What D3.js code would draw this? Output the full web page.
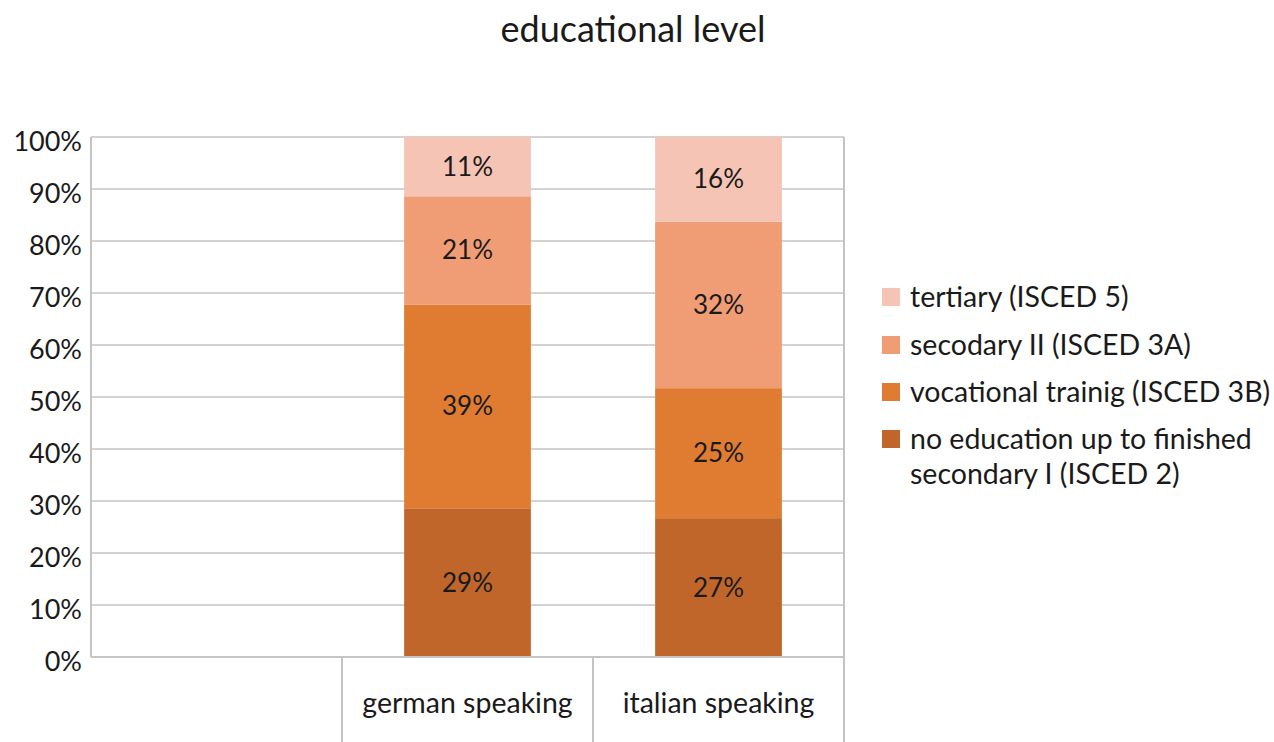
<!DOCTYPE html>
<html><head><meta charset="utf-8">
<script src="https://cdn.jsdelivr.net/npm/d3@7"></script>
<style>body{margin:0;background:#fff}svg{display:block}</style>
</head><body><svg id="c" width="1274" height="742"></svg>
<script>
const title = "educational level";
const categories = ["", "german speaking", "italian speaking"];
const seriesKeys = ["noEducation", "vocational", "secondaryII", "tertiary"];
const seriesNames = ["no education up to finished secondary I (ISCED 2)", "vocational trainig (ISCED 3B)", "secodary II (ISCED 3A)", "tertiary (ISCED 5)"];
const noEducation = [0, 28.6, 26.7];
const vocational = [0, 39.2, 25.0];
const secondaryII = [0, 20.8, 32.0];
const tertiary = [0, 11.4, 16.3];
const yTicks = [0, 10, 20, 30, 40, 50, 60, 70, 80, 90, 100];
const colors = ["#C0662A", "#E07C32", "#F09D75", "#F5C4B5"];

const FONT = "Lato, 'Open Sans', sans-serif";
const TXT = "#1a1a1a";
const GRID = "#c4c4c4";

const svg = d3.select("#c");
const m = {left: 91, right: 844, top: 137, bottom: 657};

const rows = categories.map((c, i) => ({cat: c, noEducation: noEducation[i], vocational: vocational[i], secondaryII: secondaryII[i], tertiary: tertiary[i]}));
const stack = d3.stack().keys(seriesKeys)(rows);

const x = d3.scaleBand().domain(categories).range([m.left, m.right]).padding(0);
const y = d3.scaleLinear().domain([0, 100]).range([m.bottom, m.top]);
const barW = x.bandwidth() * 0.505;

// title
svg.append("text").attr("x", 633).attr("y", 42).attr("text-anchor", "middle")
  .attr("font-family", FONT).attr("font-size", 36).attr("fill", TXT).text(title);

// gridlines
svg.append("g").selectAll("line").data(yTicks).join("line")
  .attr("x1", m.left).attr("x2", m.right)
  .attr("y1", d => y(d)).attr("y2", d => y(d))
  .attr("stroke", GRID).attr("stroke-width", 1.5);

// y labels
svg.append("g").selectAll("text").data(yTicks).join("text")
  .attr("x", 82).attr("y", d => y(d) + 13.5).attr("text-anchor", "end")
  .attr("font-family", FONT).attr("font-size", 27).attr("fill", TXT)
  .text(d => d + "%");

// bars
const layers = svg.append("g").selectAll("g").data(stack).join("g")
  .attr("fill", (d, i) => colors[i]);
layers.selectAll("rect").data(d => d.filter(s => s[1] - s[0] > 0)).join("rect")
  .attr("x", d => x(d.data.cat) + (x.bandwidth() - barW) / 2)
  .attr("width", barW)
  .attr("y", d => y(d[1]))
  .attr("height", d => y(d[0]) - y(d[1]));

// bar labels
layers.selectAll("text").data(d => d.filter(s => s[1] - s[0] > 0).map(s => Object.assign(s, {v: s[1] - s[0]}))).join("text")
  .attr("x", d => x(d.data.cat) + x.bandwidth() / 2)
  .attr("y", d => (y(d[0]) + y(d[1])) / 2 + 9)
  .attr("text-anchor", "middle")
  .attr("font-family", FONT).attr("font-size", 26).attr("fill", TXT)
  .text(d => d3.format(".0f")(d.v) + "%");

// axes lines
svg.append("line").attr("x1", m.left).attr("x2", m.left).attr("y1", m.top).attr("y2", m.bottom)
  .attr("stroke", GRID).attr("stroke-width", 2);
svg.append("line").attr("x1", m.right).attr("x2", m.right).attr("y1", m.top).attr("y2", 742)
  .attr("stroke", GRID).attr("stroke-width", 2);
svg.append("line").attr("x1", m.left).attr("x2", m.right).attr("y1", m.bottom).attr("y2", m.bottom)
  .attr("stroke", GRID).attr("stroke-width", 2);
// category separators
svg.append("g").selectAll("line").data(categories.slice(1)).join("line")
  .attr("x1", d => x(d)).attr("x2", d => x(d)).attr("y1", m.bottom).attr("y2", 742)
  .attr("stroke", GRID).attr("stroke-width", 2);

// category labels
svg.append("g").selectAll("text").data(categories).join("text")
  .attr("x", d => x(d) + x.bandwidth() / 2).attr("y", 713)
  .attr("text-anchor", "middle")
  .attr("font-family", FONT).attr("font-size", 28.5).attr("fill", TXT)
  .text(d => d);

// legend (reverse order)
const legendItems = seriesNames.map((n, i) => ({name: n, color: colors[i]})).reverse();
const legendLines = [["tertiary (ISCED 5)"], ["secodary II (ISCED 3A)"], ["vocational trainig (ISCED 3B)"], ["no education up to finished", "secondary I (ISCED 2)"]];
const lg = svg.append("g").attr("transform", "translate(882,0)");
const rowY = [297, 345, 392, 439];
legendItems.forEach((it, i) => {
  lg.append("rect").attr("x", 0).attr("y", rowY[i] - 9).attr("width", 18).attr("height", 18).attr("fill", it.color);
  const t = lg.append("text").attr("x", 28).attr("y", rowY[i] + 10)
    .attr("font-family", FONT).attr("font-size", 28.5).attr("fill", TXT);
  legendLines[i].forEach((ln, j) => t.append("tspan").attr("x", 28).attr("dy", j === 0 ? 0 : 35).text(ln));
});
</script>
</body></html>
